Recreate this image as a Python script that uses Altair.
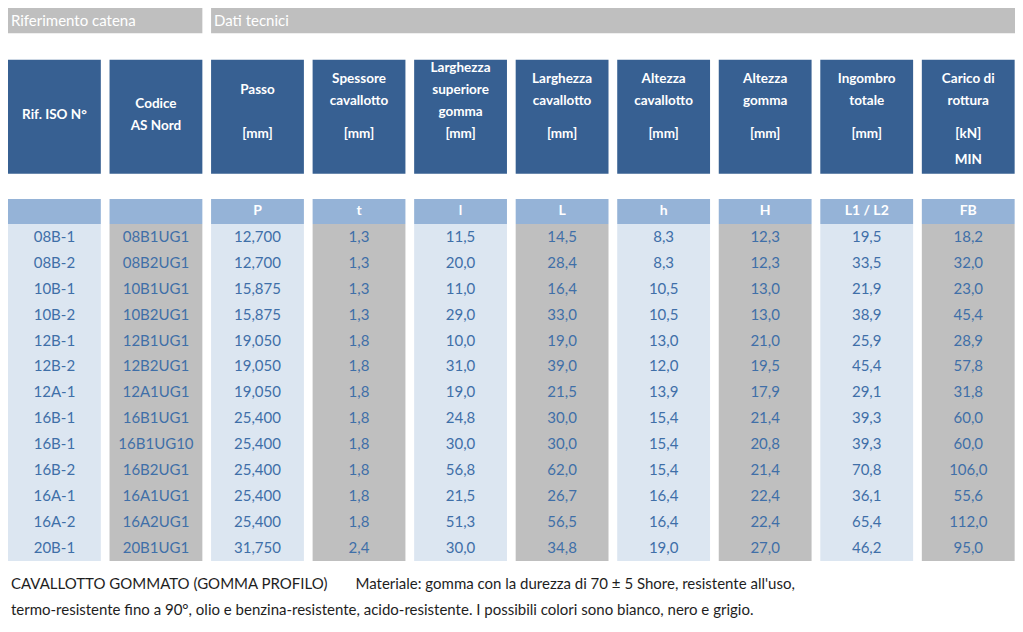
import altair as alt
import pandas as pd

# ---------------- data ----------------
group_titles = ["Riferimento catena", "Dati tecnici"]
group_spans = [(0, 1), (2, 9)]  # column index ranges

header_names = [
    ["Rif. ISO N°"],
    ["Codice", "AS Nord"],
    ["Passo"],
    ["Spessore", "cavallotto"],
    ["Larghezza", "superiore", "gomma"],
    ["Larghezza", "cavallotto"],
    ["Altezza", "cavallotto"],
    ["Altezza", "gomma"],
    ["Ingombro", "totale"],
    ["Carico di", "rottura"],
]
header_units = [[], [], ["[mm]"], ["[mm]"], ["[mm]"], ["[mm]"], ["[mm]"], ["[mm]"], ["[mm]"], ["[kN]", "MIN"]]
symbols = ["", "", "P", "t", "l", "L", "h", "H", "L1 / L2", "FB"]

iso = ["08B-1", "08B-2", "10B-1", "10B-2", "12B-1", "12B-2", "12A-1", "16B-1", "16B-1", "16B-2", "16A-1", "16A-2", "20B-1"]
codice = ["08B1UG1", "08B2UG1", "10B1UG1", "10B2UG1", "12B1UG1", "12B2UG1", "12A1UG1", "16B1UG1", "16B1UG10",
          "16B2UG1", "16A1UG1", "16A2UG1", "20B1UG1"]
passo = [12.700, 12.700, 15.875, 15.875, 19.050, 19.050, 19.050, 25.400, 25.400, 25.400, 25.400, 25.400, 31.750]
t_vals = [1.3, 1.3, 1.3, 1.3, 1.8, 1.8, 1.8, 1.8, 1.8, 1.8, 1.8, 1.8, 2.4]
l_vals = [11.5, 20.0, 11.0, 29.0, 10.0, 31.0, 19.0, 24.8, 30.0, 56.8, 21.5, 51.3, 30.0]
L_vals = [14.5, 28.4, 16.4, 33.0, 19.0, 39.0, 21.5, 30.0, 30.0, 62.0, 26.7, 56.5, 34.8]
h_vals = [8.3, 8.3, 10.5, 10.5, 13.0, 12.0, 13.9, 15.4, 15.4, 15.4, 16.4, 16.4, 19.0]
H_vals = [12.3, 12.3, 13.0, 13.0, 21.0, 19.5, 17.9, 21.4, 20.8, 21.4, 22.4, 22.4, 27.0]
L12_vals = [19.5, 33.5, 21.9, 38.9, 25.9, 45.4, 29.1, 39.3, 39.3, 70.8, 36.1, 65.4, 46.2]
FB_vals = [18.2, 32.0, 23.0, 45.4, 28.9, 57.8, 31.8, 60.0, 60.0, 106.0, 55.6, 112.0, 95.0]

footer_1a = "CAVALLOTTO GOMMATO (GOMMA PROFILO)"
footer_1b = "Materiale: gomma con la durezza di 70 ± 5 Shore, resistente all'uso,"
footer_2 = "termo-resistente fino a 90°, olio e benzina-resistente, acido-resistente. I possibili colori sono bianco, nero e grigio."

# ---------------- layout (in reference units) ----------------
W, H = 1023, 632
STEP, BW = 103.15, 94.3
TOP_Y0, TOP_Y1 = 0, 26
HEAD_Y0, HEAD_Y1 = 53, 170
SUB_Y0, SUB_Y1 = 196, 221.5
BODY_Y0, ROW_H = 221.5, 26.6
N_ROWS = len(iso)

FONT = "Lato"
DARK = "#376092"
SUB = "#95B3D7"
LIGHT = "#DCE6F1"
GREY = "#BFBFBF"
TXT = "#3F6FA8"


def fmt(v, d):
    return f"{v:.{d}f}".replace(".", ",")


columns_text = [
    iso,
    codice,
    [fmt(v, 3) for v in passo],
    [fmt(v, 1) for v in t_vals],
    [fmt(v, 1) for v in l_vals],
    [fmt(v, 1) for v in L_vals],
    [fmt(v, 1) for v in h_vals],
    [fmt(v, 1) for v in H_vals],
    [fmt(v, 1) for v in L12_vals],
    [fmt(v, 1) for v in FB_vals],
]

def left(i):
    return i * STEP

def right(i):
    return i * STEP + BW

xs = alt.Scale(domain=[0, W], nice=False, zero=False)
ys = alt.Scale(domain=[0, H], nice=False, zero=False, reverse=True)


def X(f):
    return alt.X(f, type="quantitative", scale=xs, axis=None)


def Y(f):
    return alt.Y(f, type="quantitative", scale=ys, axis=None)


# top group bars
top_df = pd.DataFrame({
    "x0": [left(a) for a, b in group_spans],
    "x1": [right(b) if b < 9 else W for a, b in group_spans],
    "y0": TOP_Y0, "y1": TOP_Y1,
    "label": group_titles,
})
top_df["tx"] = top_df["x0"] + 3
top_df["ty"] = (top_df["y0"] + top_df["y1"]) / 2

top_rect = alt.Chart(top_df).mark_rect(color=GREY).encode(x=X("x0"), x2="x1", y=Y("y0"), y2="y1")
top_text = alt.Chart(top_df).mark_text(align="left", baseline="middle", color="white", font=FONT, fontSize=15).encode(
    x=X("tx"), y=Y("ty"), text="label:N")

# header boxes
cols = list(range(10))
hdr_df = pd.DataFrame({
    "x0": [left(i) for i in cols],
    "x1": [min(right(i), W) for i in cols],
})
hdr_rect = alt.Chart(hdr_df.assign(y0=HEAD_Y0, y1=HEAD_Y1)).mark_rect(color=DARK).encode(
    x=X("x0"), x2="x1", y=Y("y0"), y2="y1")

rows = []
for i in cols:
    cx = (left(i) + min(right(i), W)) / 2
    names = header_names[i]
    units = header_units[i]
    center = 84.5 if units else 110
    start = center - (len(names) - 1) * 22.5 / 2
    for k, s in enumerate(names):
        rows.append({"x": cx, "y": start + k * 22.5, "t": s})
    for k, s in enumerate(units):
        rows.append({"x": cx, "y": 129 + k * 27, "t": s})
hdr_txt_df = pd.DataFrame(rows)
hdr_text = alt.Chart(hdr_txt_df).mark_text(baseline="middle", color="white", font=FONT, fontSize=13.5,
                                            fontWeight="bold").encode(x=X("x"), y=Y("y"), text="t:N")

# sub-header
sub_rect = alt.Chart(hdr_df.assign(y0=SUB_Y0, y1=SUB_Y1)).mark_rect(color=SUB).encode(
    x=X("x0"), x2="x1", y=Y("y0"), y2="y1")
sub_df = pd.DataFrame({
    "x": [(left(i) + min(right(i), W)) / 2 for i in cols],
    "y": (SUB_Y0 + SUB_Y1) / 2,
    "t": symbols,
})
sub_text = alt.Chart(sub_df).mark_text(baseline="middle", color="white", font=FONT, fontSize=14,
                                       fontWeight="bold").encode(x=X("x"), y=Y("y"), text="t:N")

# body columns
body_df = hdr_df.assign(y0=BODY_Y0, y1=BODY_Y0 + N_ROWS * ROW_H,
                        kind=["light" if i % 2 == 0 else "grey" for i in cols])
body_rect = alt.Chart(body_df).mark_rect().encode(
    x=X("x0"), x2="x1", y=Y("y0"), y2="y1",
    color=alt.Color("kind:N", scale=alt.Scale(domain=["light", "grey"], range=[LIGHT, GREY]), legend=None))

cells = []
for i in cols:
    cx = (left(i) + min(right(i), W)) / 2
    for r in range(N_ROWS):
        cells.append({"x": cx, "y": BODY_Y0 + (r + 0.5) * ROW_H, "t": columns_text[i][r]})
cell_df = pd.DataFrame(cells)
cell_text = alt.Chart(cell_df).mark_text(baseline="middle", color=TXT, font=FONT, fontSize=15).encode(
    x=X("x"), y=Y("y"), text="t:N")

# footer
foot_df = pd.DataFrame({
    "x": [3, 353, 3],
    "y": [591, 591, 618],
    "t": [footer_1a, footer_1b, footer_2],
})
foot_text = alt.Chart(foot_df).mark_text(align="left", baseline="middle", color="#1E1E1E", font=FONT,
                                         fontSize=15).encode(x=X("x"), y=Y("y"), text="t:N")

chart = alt.layer(
    top_rect, top_text, hdr_rect, hdr_text, sub_rect, sub_text, body_rect, cell_text, foot_text
).properties(width=1007, height=616, padding=0, background="white").configure_view(stroke=None)

chart.save("out.html", embed_options={"renderer": "svg", "actions": False})
